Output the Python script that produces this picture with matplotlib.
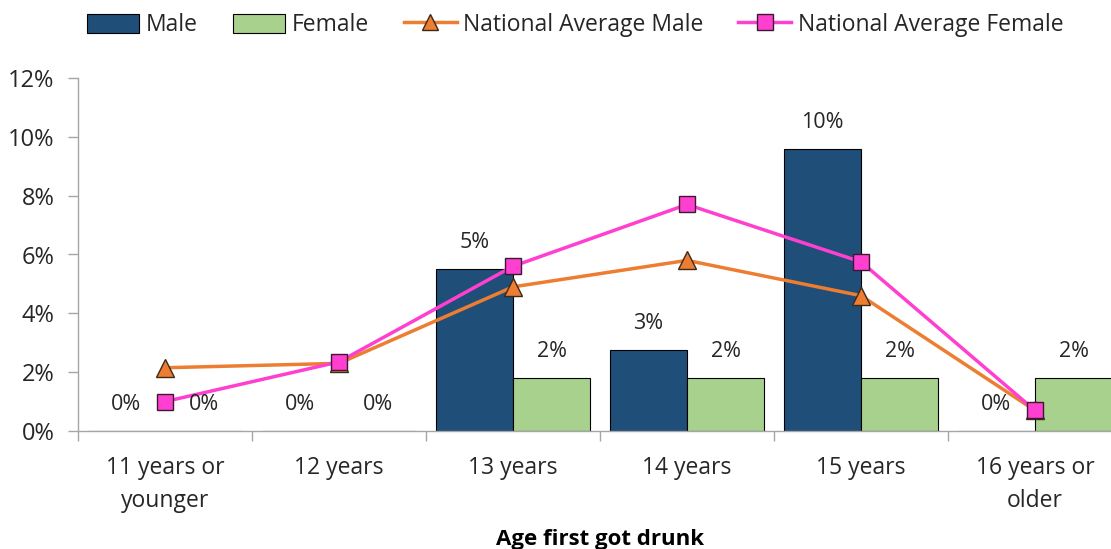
import matplotlib.pyplot as plt
import numpy as np
from matplotlib.patches import Patch
from matplotlib.lines import Line2D
from matplotlib.ticker import FuncFormatter

plt.rcParams['font.family'] = ['Open Sans', 'DejaVu Sans']

categories = ['11 years or\nyounger', '12 years', '13 years', '14 years', '15 years', '16 years or\nolder']
male = [0.0, 0.0, 5.5, 2.75, 9.6, 0.0]
female = [0.0, 0.0, 1.8, 1.8, 1.8, 1.8]
male_labels = ['0%', '0%', '5%', '3%', '10%', '0%']
female_labels = ['0%', '0%', '2%', '2%', '2%', '2%']
nat_male = [2.15, 2.3, 4.9, 5.8, 4.6, 0.7]
nat_female = [1.0, 2.35, 5.6, 7.7, 5.75, 0.7]

c_male = '#1F4E79'
c_female = '#A9D18E'
c_nm = '#ED7D31'
c_nf = '#FF3FCF'
grey = '#A6A6A6'
txt = '#262626'

fig = plt.figure(figsize=(11.11, 5.49), dpi=100)
ax = fig.add_axes([78 / 1111, 118 / 549, 1044 / 1111, 353 / 549])

x = np.arange(len(categories))
w = 0.445
ax.bar(x - w / 2, male, w, color=c_male, edgecolor='black', linewidth=0.8, zorder=2)
ax.bar(x + w / 2, female, w, color=c_female, edgecolor='black', linewidth=0.8, zorder=2)

# data labels above each bar
for xi, v, lab in zip(x - w / 2, male, male_labels):
    ax.annotate(lab, (xi, v), xytext=(0, 19), textcoords='offset points',
                ha='center', va='center', fontsize=15.5, color=txt, zorder=5)
for xi, v, lab in zip(x + w / 2, female, female_labels):
    ax.annotate(lab, (xi, v), xytext=(0, 19), textcoords='offset points',
                ha='center', va='center', fontsize=15.5, color=txt, zorder=5)

ax.plot(x, nat_male, color=c_nm, lw=2.5, marker='^', ms=13,
        markerfacecolor=c_nm, markeredgecolor='#3a2a1a', markeredgewidth=1, zorder=3)
ax.plot(x, nat_female, color=c_nf, lw=2.5, marker='s', ms=12,
        markerfacecolor=c_nf, markeredgecolor='#3a1a30', markeredgewidth=1, zorder=4)

ax.set_xlim(-0.5, len(categories) - 0.5)
ax.set_ylim(0, 12)
ax.set_yticks(np.arange(0, 13, 2))
ax.yaxis.set_major_formatter(FuncFormatter(lambda v, p: '%d%%' % v))
ax.set_xticks(x)
ax.set_xticklabels(categories, linespacing=1.5)
ax.set_xticks(np.arange(-0.5, len(categories), 1), minor=True)
ax.tick_params(axis='x', which='major', length=0, pad=18, labelsize=16.5, labelcolor=txt)
ax.tick_params(axis='x', which='minor', length=7, color=grey, width=1)
ax.tick_params(axis='y', length=7, color=grey, width=1, labelsize=17, labelcolor=txt, pad=10)

for s in ['top', 'right']:
    ax.spines[s].set_visible(False)
for s in ['left', 'bottom']:
    ax.spines[s].set_color(grey)
    ax.spines[s].set_linewidth(1)

fig.text(600 / 1111, 1 - 540 / 549, 'Age first got drunk', ha='center', va='center',
         fontsize=16, fontweight='bold', color='black')

handles = [
    Patch(facecolor=c_male, edgecolor='black', linewidth=0.8),
    Patch(facecolor=c_female, edgecolor='black', linewidth=0.8),
    Line2D([], [], color=c_nm, lw=2.5, marker='^', ms=12, markerfacecolor=c_nm,
           markeredgecolor='#3a2a1a'),
    Line2D([], [], color=c_nf, lw=2.5, marker='s', ms=11, markerfacecolor=c_nf,
           markeredgecolor='#3a1a30'),
]
names = ['Male', 'Female', 'National Average Male', 'National Average Female']
fig.legend(handles, names, loc='center', bbox_to_anchor=(575 / 1111, 1 - 25 / 549), ncol=4,
           frameon=False, fontsize=16.5, handlelength=2.3, handleheight=0.9,
           handletextpad=0.3, columnspacing=1.5, labelcolor=txt)

fig.savefig('out.png', dpi=100)
